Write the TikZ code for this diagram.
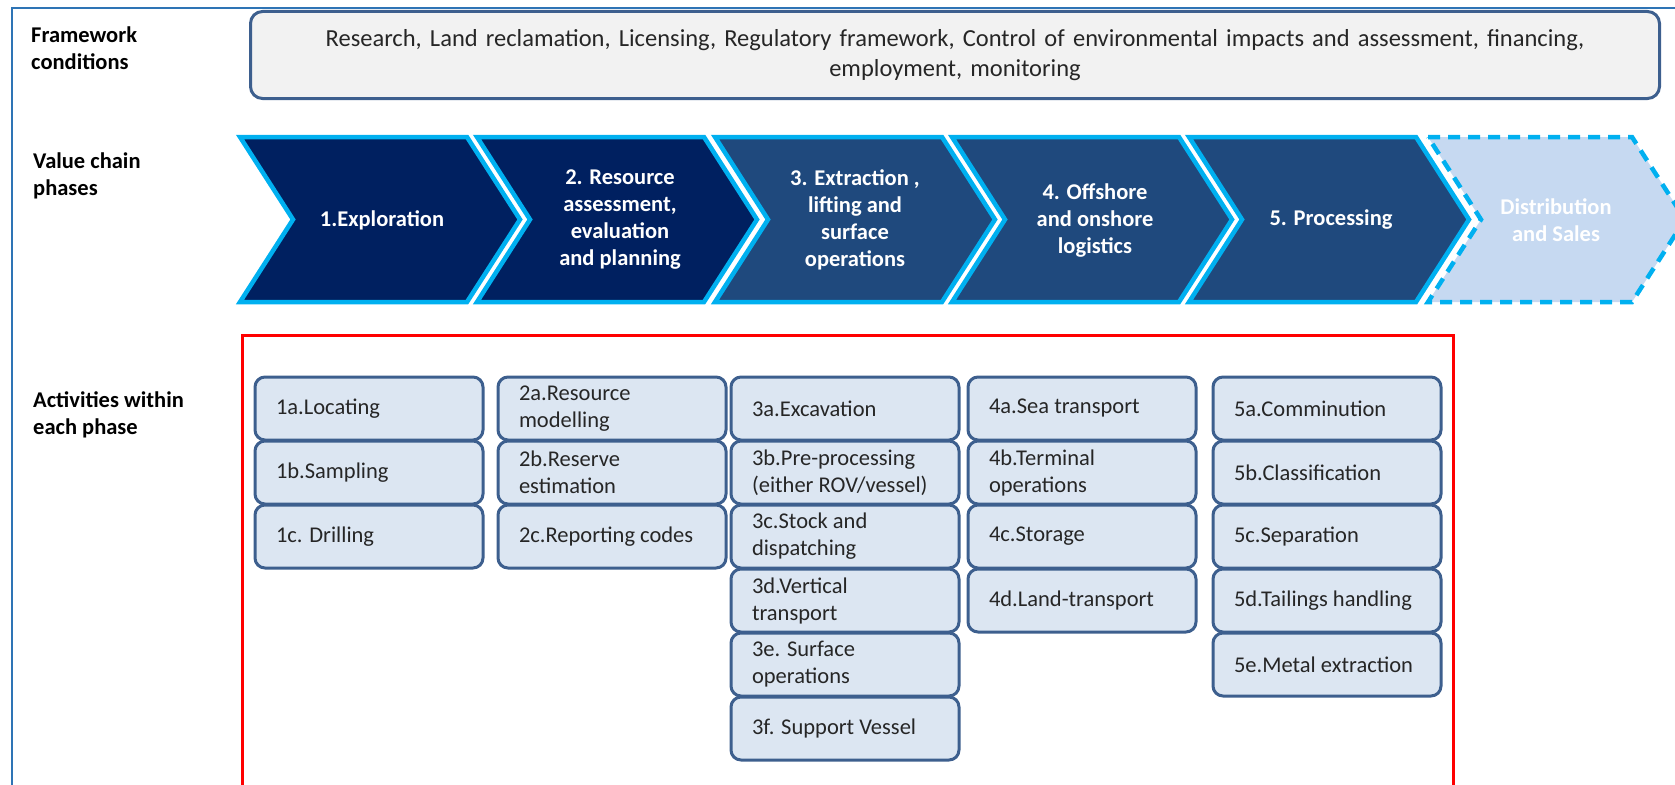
\documentclass[tikz,border=0pt]{standalone}
\usepackage{fontspec}
\setmainfont{Carlito}
\usepackage{tikz}
\usepackage{xcolor}
\usetikzlibrary{positioning}

\definecolor{navy}{HTML}{002060}
\definecolor{steel}{HTML}{1F497D}
\definecolor{cyanline}{HTML}{00B0F0}
\definecolor{palechev}{HTML}{C6D9F1}
\definecolor{boxfill}{HTML}{DCE6F2}
\definecolor{boxline}{HTML}{3D5F8E}
\definecolor{framefill}{HTML}{F2F2F2}
\definecolor{outerline}{HTML}{2E74B5}

\tikzset{
  chevron/.style={draw=cyanline, line width=4.5pt},
  phasetext/.style={text=white, align=center, font=\fontsize{22.5}{27}\selectfont\bfseries},
  sidelabel/.style={anchor=west, align=left, inner sep=0pt, font=\fontsize{22.5}{27}\selectfont\bfseries},
  actbox/.style={draw=boxline, fill=boxfill, line width=3pt, rounded corners=10pt,
    text width=186pt, inner xsep=21pt, inner ysep=3pt, outer sep=0pt, minimum height=63pt,
    align=flush left, text=black!85, font=\fontsize{22.5}{27}\selectfont}
}

\begin{document}
\begin{tikzpicture}[x=1pt,y=-1pt]
\useasboundingbox (0,0) rectangle (1675,784);
\clip (0,0) rectangle (1675,784);
% Draw the outer frame
\draw[outerline, line width=2pt] (12,8) rectangle (1700,810);
% Framework conditions
\node[sidelabel] (framelabel) at (31,48) {Framework\\conditions};
\node[draw=boxline, fill=framefill, line width=3pt, rounded corners=12pt,
  minimum width=1409pt, minimum height=87pt, text width=1390pt, align=center,
  text=black!85, font=\fontsize{24.5}{30}\selectfont] (framework) at (955,55)
  {Research, Land reclamation, Licensing, Regulatory framework, Control of environmental impacts and assessment, financing,\\employment, monitoring};
% Value chain phases
\node[sidelabel] (phaselabel) at (33,176) {Value chain\\phases};
\draw[chevron, fill=navy] (240,137) -- (467,137) -- (520,219.5) -- (467,302) -- (240,302) -- (293,219.5) -- cycle;
\draw[chevron, fill=navy] (477,137) -- (704,137) -- (757,219.5) -- (704,302) -- (477,302) -- (530,219.5) -- cycle;
\draw[chevron, fill=steel] (715,137) -- (942,137) -- (995,219.5) -- (942,302) -- (715,302) -- (768,219.5) -- cycle;
\draw[chevron, fill=steel] (952,137) -- (1179,137) -- (1232,219.5) -- (1179,302) -- (952,302) -- (1005,219.5) -- cycle;
\draw[chevron, fill=steel] (1189,137) -- (1416,137) -- (1469,219.5) -- (1416,302) -- (1189,302) -- (1242,219.5) -- cycle;
\draw[chevron, fill=palechev, dash pattern=on 12pt off 8pt] (1428,137) -- (1632,137) -- (1685,219.5) -- (1632,302) -- (1428,302) -- (1481,219.5) -- cycle;
% Labels
\node[phasetext] (explore) at (382,220) {1.Exploration};
\node[phasetext] (assess) at (620,220) {2. Resource\\assessment,\\evaluation\\and planning};
\node[phasetext] (extract) at (855,220) {3. Extraction ,\\lifting and\\surface\\operations};
\node[phasetext] (logistics) at (1095,220) {4. Offshore\\and onshore\\logistics};
\node[phasetext] (process) at (1331,220) {5. Processing};
\node[phasetext] (distrib) at (1556,220) {Distribution\\and Sales};
% Activities within each phase
\node[sidelabel] (actlabel) at (33,415) {Activities within\\each phase};
\draw[red, line width=3pt] (242,335) rectangle (1453,810);
% Column 1
\node[actbox, anchor=north west] (act1a) at (255,377) {1a.Locating};
\node[actbox, below=1pt of act1a] (act1b) {1b.Sampling};
\node[actbox, below=1pt of act1b] (act1c) {1c. Drilling};
% Column 2
\node[actbox, anchor=north west] (act2a) at (498,377) {2a.Resource\\modelling};
\node[actbox, below=1pt of act2a] (act2b) {2b.Reserve\\estimation};
\node[actbox, below=1pt of act2b] (act2c) {2c.Reporting codes};
% Column 3
\node[actbox, anchor=north west] (act3a) at (731,377) {3a.Excavation};
\node[actbox, below=1pt of act3a] (act3b) {3b.Pre-processing\\(either ROV/vessel)};
\node[actbox, below=1pt of act3b] (act3c) {3c.Stock and\\dispatching};
\node[actbox, below=1pt of act3c] (act3d) {3d.Vertical\\transport};
\node[actbox, below=1pt of act3d] (act3e) {3e. Surface\\operations};
\node[actbox, below=1pt of act3e] (act3f) {3f. Support Vessel};
% Column 4
\node[actbox, anchor=north west] (act4a) at (968,377) {4a.Sea transport};
\node[actbox, below=1pt of act4a] (act4b) {4b.Terminal\\operations};
\node[actbox, below=1pt of act4b] (act4c) {4c.Storage};
\node[actbox, below=1pt of act4c] (act4d) {4d.Land-transport};
% Column 5
\node[actbox, anchor=north west] (act5a) at (1213,377) {5a.Comminution};
\node[actbox, below=1pt of act5a] (act5b) {5b.Classification};
\node[actbox, below=1pt of act5b] (act5c) {5c.Separation};
\node[actbox, below=1pt of act5c] (act5d) {5d.Tailings handling};
\node[actbox, below=1pt of act5d] (act5e) {5e.Metal extraction};
\end{tikzpicture}
\end{document}
